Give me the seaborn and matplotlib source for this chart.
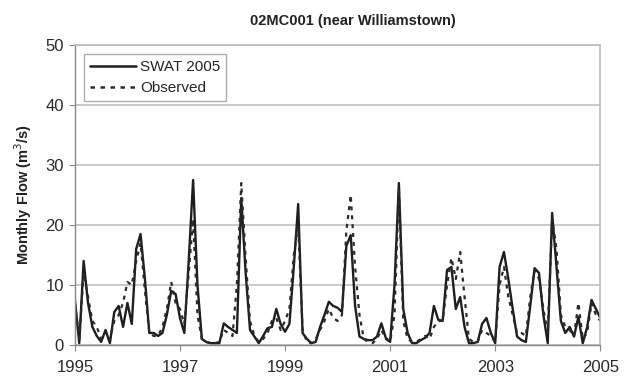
import numpy as np
import pandas as pd
import matplotlib
matplotlib.use("Agg")
import matplotlib.pyplot as plt
import seaborn as sns

title = "02MC001 (near Williamstown)"
ylabel = "Monthly Flow (m$^3$/s)"
series_names = ["SWAT 2005", "Observed"]
start_year = 1995
xticks = [1995, 1997, 1999, 2001, 2003, 2005]
yticks = [0, 10, 20, 30, 40, 50]

swat = [7.5, 0.3, 14, 7, 3, 1.5, 0.5, 2.5, 0.3, 5.5, 6.5, 3,
        7, 3.5, 16, 18.5, 11, 2, 2, 1.5, 2, 5, 9, 8.5,
        4.5, 2, 14, 27.5, 10, 1, 0.5, 0.3, 0.3, 0.3, 3.6, 3,
        2.5, 2, 24.5, 12, 2.5, 1.4, 0.3, 1.5, 2.8, 3, 6, 3.5,
        2.2, 3.5, 13, 23.5, 2, 1, 0.3, 0.5, 3, 5, 7.2, 6.5,
        6.2, 5.5, 16.5, 18.3, 6.5, 1.4, 1, 0.8, 0.8, 1.4, 3.6, 1.2,
        0.5, 10, 27, 6, 2, 0.3, 0.3, 0.8, 1.2, 2, 6.5, 4.2,
        4, 12.5, 13, 6, 8, 3, 0.3, 0.3, 0.5, 3.5, 4.5, 2,
        0.3, 13, 15.5, 11, 6, 1.4, 0.8, 0.5, 6.5, 12.8, 12, 5,
        0.3, 22, 13, 4, 2, 3, 1.4, 4.7, 0.3, 3, 7.5, 6,
        4.5]

observed = [7, 1, 12, 8, 4, 3, 1, 1, 1, 4, 5, 7,
            10.5, 10, 14, 17, 9, 2, 1.5, 1.5, 3, 6, 10.5, 7,
            6, 3.5, 12, 21, 5, 1, 0.5, 0.3, 0.3, 0.5, 2.5, 2,
            1.5, 10, 27, 14.5, 4, 1.5, 0.5, 1, 2, 4, 4.5, 2.5,
            4, 6, 15, 20, 2.5, 0.5, 0.3, 1, 2.5, 4, 6, 4.5,
            4, 5, 19, 25, 13, 5, 1, 0.5, 0.3, 1, 2.5, 1,
            0.5, 5, 26, 4, 1, 0.5, 0.5, 1, 1.5, 1, 3, 4,
            4, 10, 14.5, 11, 15.5, 8, 1, 0.5, 0.5, 2.5, 2, 1.5,
            0.5, 10, 13, 8, 5, 2, 2, 1.5, 8, 12.5, 11, 6,
            2, 21, 16, 5, 3, 2.5, 1.5, 7, 1, 2, 7, 5,
            4]

t = start_year + np.arange(len(swat)) / 12.0
df = pd.DataFrame({
    "t": np.concatenate([t, t]),
    "flow": np.concatenate([swat, observed]),
    "series": [series_names[0]] * len(swat) + [series_names[1]] * len(observed),
})

sns.set_style("white")
plt.rcParams["font.family"] = ["Liberation Sans", "DejaVu Sans"]

fig = plt.figure(figsize=(6.24, 3.82), dpi=100)
ax = fig.add_axes([0.120, 0.097, 0.842, 0.785])

sns.lineplot(data=df, x="t", y="flow", hue="series", style="series",
             palette={series_names[0]: "#1e1e1e", series_names[1]: "#2a2a2a"},
             dashes={series_names[0]: "", series_names[1]: (1.8, 2.2)},
             ax=ax, legend=True)
for ln, lw in zip(ax.lines[:2], [1.7, 1.6]):
    ln.set_linewidth(lw)

ax.set_xlim(1995, 2005)
ax.set_ylim(0, 50)
ax.set_xticks(xticks)
ax.set_yticks(yticks)
ax.set_xticklabels([str(x) for x in xticks], fontsize=12, color="#2a2a2a")
ax.set_yticklabels([str(y) for y in yticks], fontsize=12, color="#2a2a2a")
ax.yaxis.grid(True, color="#c0c0c0", linewidth=1.2)
ax.set_axisbelow(True)
ax.tick_params(axis="x", length=4, width=0.8, color="#888888",
               direction="out", pad=7, bottom=True)
ax.tick_params(axis="y", length=4, width=0.8, color="#888888",
               direction="out", pad=4, left=True)
for side in ["top", "right"]:
    ax.spines[side].set_color("#bbbbbb")
    ax.spines[side].set_linewidth(1.2)
for side in ["left", "bottom"]:
    ax.spines[side].set_color("#888888")
    ax.spines[side].set_linewidth(1.0)

ax.set_xlabel("")
ax.set_ylabel(ylabel, fontsize=10.5, fontweight="bold", color="#222222", labelpad=8)
fig.text(0.565, 0.945, title, fontsize=10.5, fontweight="bold", color="#222222",
         ha="center", va="center")

leg = ax.legend(loc="upper left", fontsize=11, frameon=True, fancybox=False,
                borderpad=0.4, handlelength=3.0, handletextpad=0.3,
                labelspacing=0.45, bbox_to_anchor=(0.002, 0.995))
leg.get_frame().set_edgecolor("#999999")
leg.get_frame().set_linewidth(1.0)
for h in leg.get_lines():
    h.set_linewidth(1.8)

fig.savefig("out.png", dpi=100)
